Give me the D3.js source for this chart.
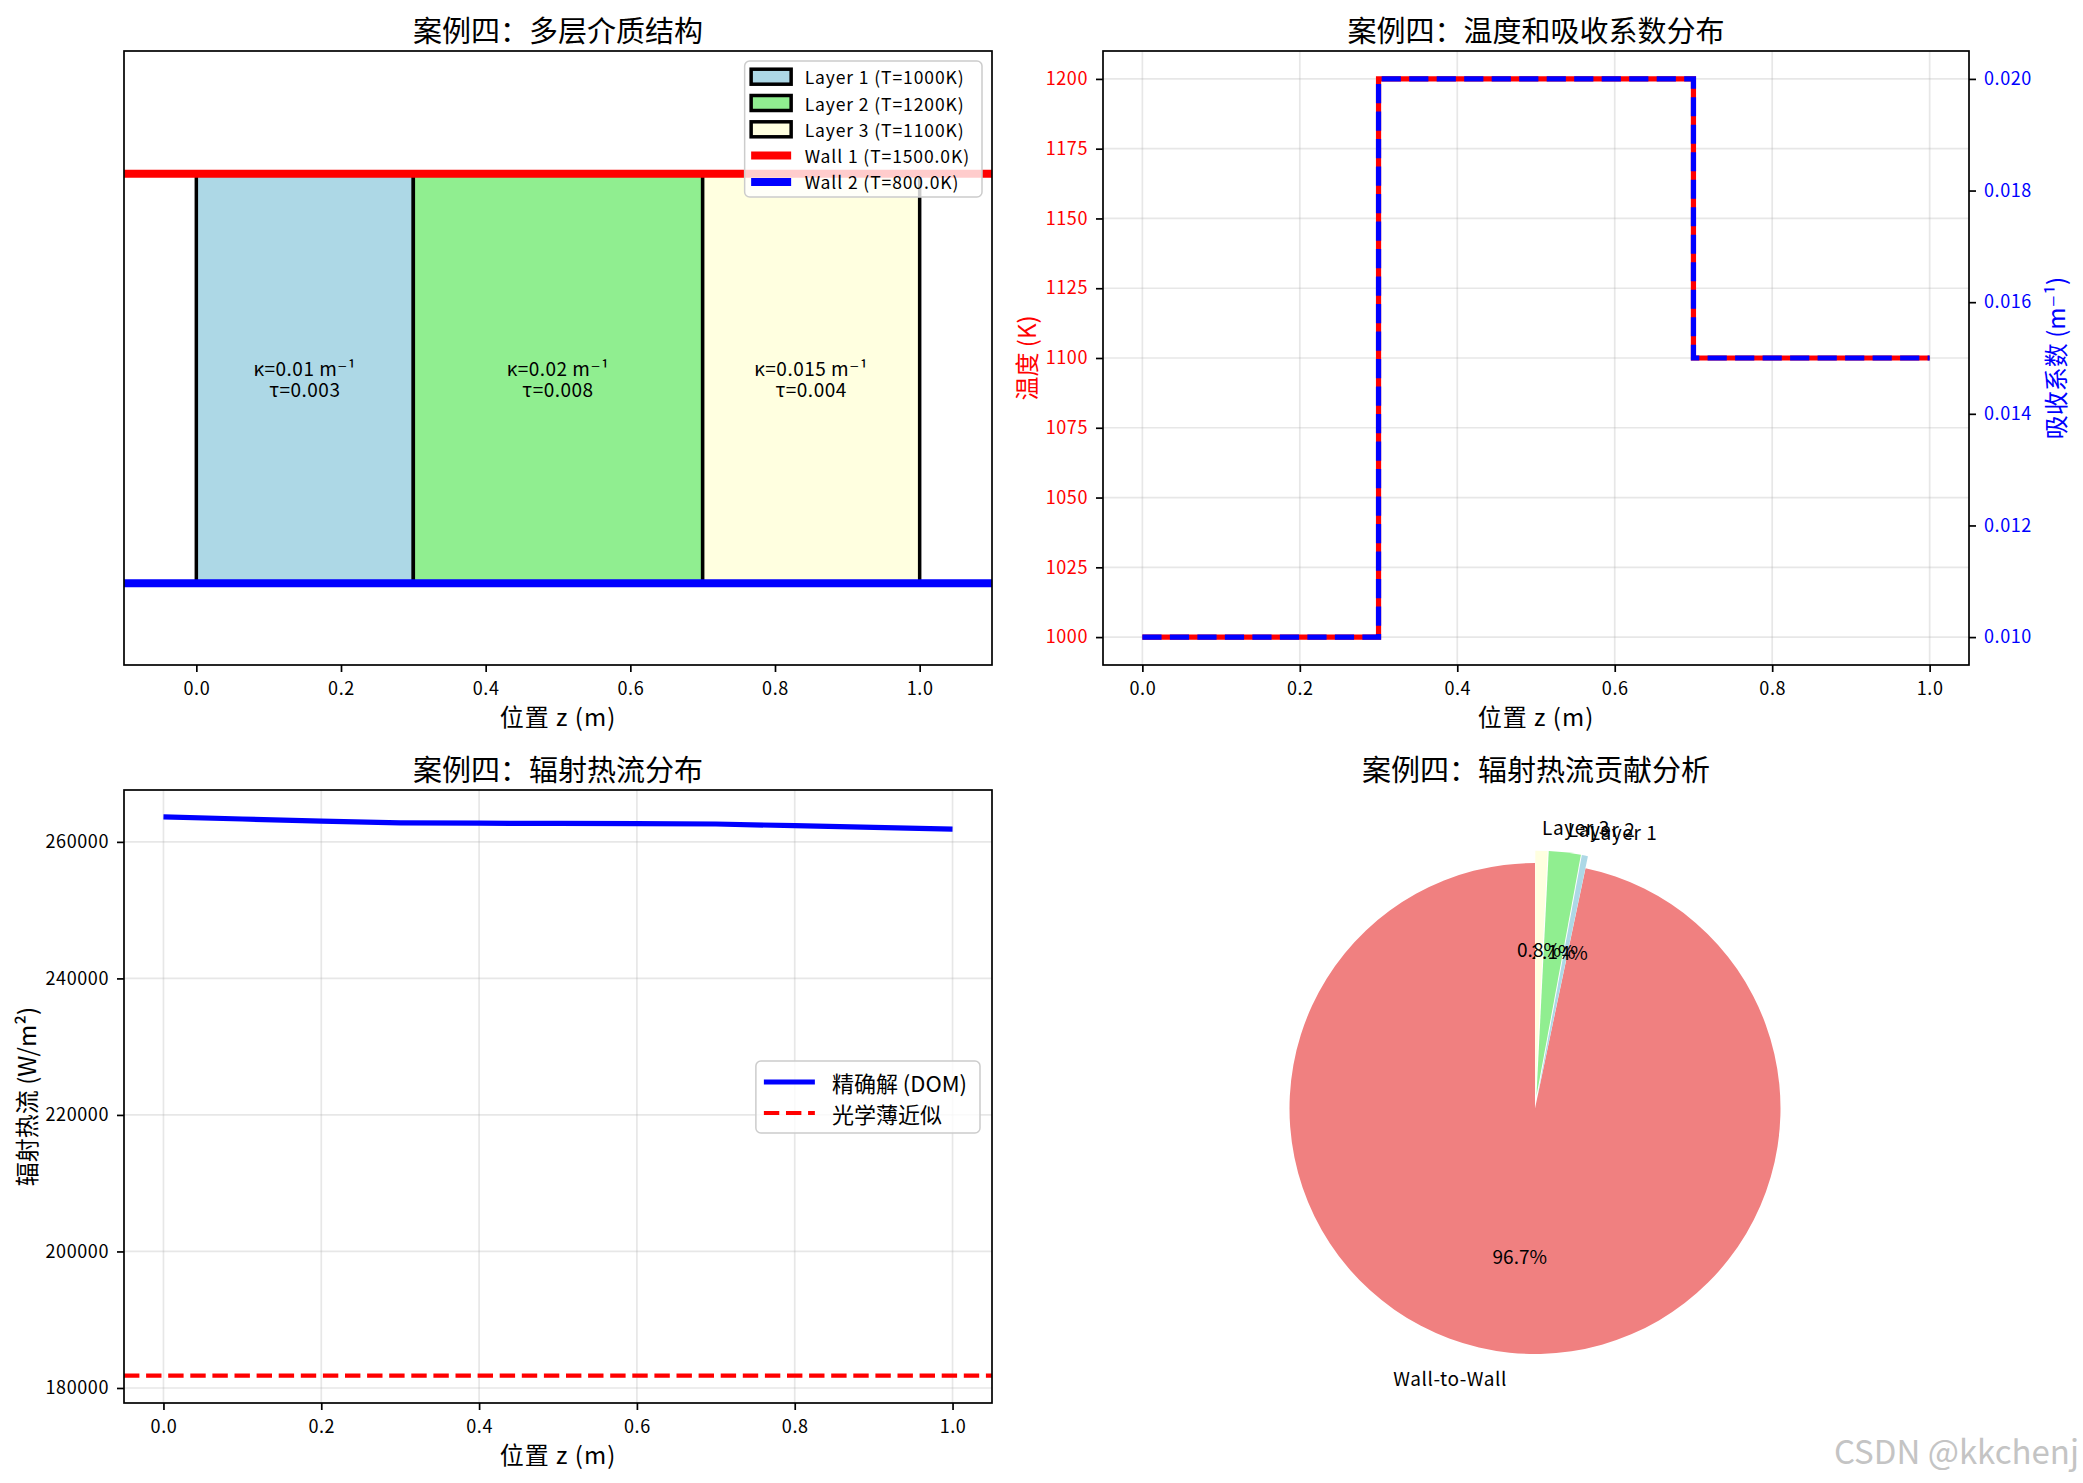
<!DOCTYPE html>
<html lang="zh">
<head>
<meta charset="UTF-8">
<title>案例四</title>
<style>
  body { margin: 0; background: #fff; }
  svg { display: block; font-family: "Noto Sans CJK SC", "DejaVu Sans", sans-serif; }
</style>
</head>
<body>
<div id="chart"></div>
<script src="https://cdnjs.cloudflare.com/ajax/libs/d3/7.8.5/d3.min.js"></script>
<script>
// --- data ---
const layerNames = ['Layer 1', 'Layer 2', 'Layer 3'];
const layerBounds = [0, 0.3, 0.7, 1.0];
const layerTemps = [1000, 1200, 1100];
const layerKappa = ['0.01', '0.02', '0.015'];
const layerTau = ['0.003', '0.008', '0.004'];
const layerColors = ['lightblue', 'lightgreen', 'lightyellow'];
const wallNames = ['Wall 1', 'Wall 2'];
const wallTemps = ['1500.0', '800.0'];
const wallColors = ['#ff0000', '#0000ff'];

const profileZ = [0, 0.3, 0.7, 1.0];
const profileT = [1000, 1200, 1100, 1100];
const profileK = [0.010, 0.020, 0.015, 0.015];

const fluxZ = [0, 0.1, 0.2, 0.3, 0.4, 0.5, 0.6, 0.7, 0.8, 0.9, 1.0];
const fluxDOM = [263650, 263350, 263050, 262780, 262740, 262700, 262660, 262620, 262370, 262120, 261870];
const fluxThin = 181800;

const pieLabels = ['Wall-to-Wall', 'Layer 1', 'Layer 2', 'Layer 3'];
const pieValues = [96.7, 0.4, 2.1, 0.8];
const pieColors = ['lightcoral', 'lightblue', 'lightgreen', 'lightyellow'];
const pieExplode = [0, 0.05, 0.05, 0.05];

const zTicks = [0, 0.2, 0.4, 0.6, 0.8, 1.0];
const tempTicks = [1000, 1025, 1050, 1075, 1100, 1125, 1150, 1175, 1200];
const kappaTicks = [0.010, 0.012, 0.014, 0.016, 0.018, 0.020];
const fluxTicks = [180000, 200000, 220000, 240000, 260000];

// --- layout ---
const W = 2083, H = 1483;
const svg = d3.select('#chart').append('svg').attr('width', W).attr('height', H);

const panels = {
  tl: {x: 124, y: 51, w: 868, h: 614},
  tr: {x: 1103, y: 51, w: 866, h: 614},
  bl: {x: 124, y: 790, w: 868, h: 613}
};

function title(cx, cy, txt) {
  svg.append('text').attr('x', cx).attr('y', cy)
    .attr('text-anchor', 'middle').attr('dominant-baseline', 'central')
    .style('font-size', '29px').text(txt);
}

function styleAxis(g, color) {
  g.attr('font-family', null).attr('font-size', null);
  g.select('.domain').remove();
  g.selectAll('.tick line').attr('stroke', '#000').attr('stroke-width', 1.7);
  g.selectAll('.tick text').attr('fill', color || '#000')
    .style('font-size', '18px').style('letter-spacing', '0.6px');
}

function xAxis(g, x, p) {
  const ax = g.append('g').attr('transform', `translate(0,${p.h})`)
    .call(d3.axisBottom(x).tickValues(zTicks).tickFormat(d3.format('.1f')).tickSize(7).tickPadding(10));
  styleAxis(ax);
  g.append('text').attr('x', p.w / 2).attr('y', p.h + 50)
    .attr('text-anchor', 'middle').attr('dominant-baseline', 'central')
    .style('font-size', '24px').style('letter-spacing', '1px').text('位置 z (m)');
}

function yLabel(g, dx, p, txt, color) {
  g.append('text').attr('transform', `translate(${dx},${p.h / 2}) rotate(-90)`)
    .attr('text-anchor', 'middle').attr('dominant-baseline', 'central')
    .attr('fill', color || '#000').style('font-size', '24px').text(txt);
}

function grid(g, x, y, xt, yt, p) {
  const gg = g.append('g').attr('stroke', '#b0b0b0').attr('stroke-opacity', 0.3).attr('stroke-width', 1.7);
  gg.selectAll('.gx').data(xt).join('line')
    .attr('x1', d => x(d)).attr('x2', d => x(d)).attr('y1', 0).attr('y2', p.h);
  gg.selectAll('.gy').data(yt).join('line')
    .attr('y1', d => y(d)).attr('y2', d => y(d)).attr('x1', 0).attr('x2', p.w);
}

function frame(g, p) {
  g.append('rect').attr('width', p.w).attr('height', p.h)
    .attr('fill', 'none').attr('stroke', '#000').attr('stroke-width', 1.7);
}

function legend(g, items, o) {
  const lg = g.append('g');
  const box = lg.append('rect').attr('y', o.top).attr('height', o.height)
    .attr('rx', 5).attr('fill', '#fff').attr('fill-opacity', 0.8)
    .attr('stroke', '#cccccc').attr('stroke-width', 1.5);
  const rows = lg.selectAll('.row').data(items).join('g');
  const texts = rows.append('text')
    .attr('y', (d, i) => o.top + o.first + i * o.rowH)
    .attr('dominant-baseline', 'central').style('font-size', o.fs + 'px')
    .style('letter-spacing', (o.ls || 0) + 'px')
    .text(d => d.label);
  let maxW = 0;
  texts.each(function () { maxW = Math.max(maxW, this.getComputedTextLength()); });
  const left = o.right - (o.textX + maxW + o.padR);
  box.attr('x', left).attr('width', o.right - left);
  texts.attr('x', left + o.textX);
  rows.each(function (d, i) {
    const cy = o.top + o.first + i * o.rowH;
    const r = d3.select(this);
    if (d.type === 'patch') {
      r.append('rect').attr('x', left + o.hx).attr('y', cy - 7.5).attr('width', o.hw).attr('height', 15)
        .attr('fill', d.color).attr('stroke', '#000').attr('stroke-width', 3.5);
    } else {
      r.append('line').attr('x1', left + o.hx).attr('x2', left + o.hx + o.hw).attr('y1', cy).attr('y2', cy)
        .attr('stroke', d.color).attr('stroke-width', d.width).attr('stroke-dasharray', d.dash || null);
    }
  });
}

// --- panel 1: layer structure ---
{
  const p = panels.tl;
  const g = svg.append('g').attr('transform', `translate(${p.x},${p.y})`);
  const x = d3.scaleLinear().domain([-0.1, 1.1]).range([0, p.w]);
  const y = d3.scaleLinear().domain([-0.2, 1.3]).range([p.h, 0]);

  const layers = layerNames.map((n, i) => ({
    name: n, z0: layerBounds[i], z1: layerBounds[i + 1], T: layerTemps[i],
    k: layerKappa[i], tau: layerTau[i], color: layerColors[i]
  }));

  g.selectAll('.layer').data(layers).join('rect')
    .attr('x', d => x(d.z0)).attr('width', d => x(d.z1) - x(d.z0))
    .attr('y', y(1)).attr('height', y(0) - y(1))
    .attr('fill', d => d.color).attr('stroke', '#000').attr('stroke-width', 3.5);

  const lab = g.selectAll('.lab').data(layers).join('text')
    .attr('text-anchor', 'middle').style('font-size', '19px').style('letter-spacing', '0.5px');
  lab.append('tspan').attr('x', d => x((d.z0 + d.z1) / 2)).attr('y', y(0.5) - 10.5)
    .attr('dominant-baseline', 'central').text(d => `κ=${d.k} m⁻¹`);
  lab.append('tspan').attr('x', d => x((d.z0 + d.z1) / 2)).attr('y', y(0.5) + 10.5)
    .attr('dominant-baseline', 'central').text(d => `τ=${d.tau}`);

  g.selectAll('.wall').data([1, 0]).join('line')
    .attr('x1', 0).attr('x2', p.w).attr('y1', d => y(d)).attr('y2', d => y(d))
    .attr('stroke', (d, i) => wallColors[i]).attr('stroke-width', 8);

  const items = layers.map(d => ({label: `${d.name} (T=${d.T}K)`, type: 'patch', color: d.color}))
    .concat(wallNames.map((n, i) => ({label: `${n} (T=${wallTemps[i]}K)`, type: 'line', color: wallColors[i], width: 8})));
  legend(g, items, {right: 858, top: 10, height: 136, first: 15.7, rowH: 26.3, hx: 6.5, hw: 40, textX: 60, padR: 12, fs: 17.5, ls: 0.9});

  xAxis(g, x, p);
  frame(g, p);
  title(p.x + p.w / 2, 29, '案例四：多层介质结构');
}

// --- panel 2: temperature & absorption ---
{
  const p = panels.tr;
  const g = svg.append('g').attr('transform', `translate(${p.x},${p.y})`);
  const x = d3.scaleLinear().domain([-0.05, 1.05]).range([0, p.w]);
  const yT = d3.scaleLinear().domain([990, 1210]).range([p.h, 0]);
  const yK = d3.scaleLinear().domain([0.0095, 0.0205]).range([p.h, 0]);
  grid(g, x, yT, zTicks, tempTicks, p);

  const pts = profileZ.map((z, i) => ({z, T: profileT[i], k: profileK[i]}));
  g.append('path').datum(pts)
    .attr('d', d3.line().x(d => x(d.z)).y(d => yT(d.T)).curve(d3.curveStepAfter))
    .attr('fill', 'none').attr('stroke', '#ff0000').attr('stroke-width', 5.2);
  g.append('path').datum(pts)
    .attr('d', d3.line().x(d => x(d.z)).y(d => yK(d.k)).curve(d3.curveStepAfter))
    .attr('fill', 'none').attr('stroke', '#0000ff').attr('stroke-width', 5.2)
    .attr('stroke-dasharray', '19.2,8.3');

  xAxis(g, x, p);
  const al = g.append('g').call(d3.axisLeft(yT).tickValues(tempTicks).tickFormat(d3.format('d')).tickSize(7).tickPadding(8));
  styleAxis(al, '#ff0000');
  const ar = g.append('g').attr('transform', `translate(${p.w},0)`)
    .call(d3.axisRight(yK).tickValues(kappaTicks).tickFormat(d3.format('.3f')).tickSize(7).tickPadding(8));
  styleAxis(ar, '#0000ff');
  yLabel(g, -77.5, p, '温度 (K)', '#ff0000');
  yLabel(g, p.w + 85, p, '吸收系数 (m⁻¹)', '#0000ff');
  frame(g, p);
  title(p.x + p.w / 2, 29, '案例四：温度和吸收系数分布');
}

// --- panel 3: radiative heat flux ---
{
  const p = panels.bl;
  const g = svg.append('g').attr('transform', `translate(${p.x},${p.y})`);
  const x = d3.scaleLinear().domain([-0.05, 1.05]).range([0, p.w]);
  const y = d3.scaleLinear().domain([177800, 267600]).range([p.h, 0]);
  grid(g, x, y, zTicks, fluxTicks, p);

  g.append('path').datum(fluxZ.map((z, i) => [z, fluxDOM[i]]))
    .attr('d', d3.line().x(d => x(d[0])).y(d => y(d[1])))
    .attr('fill', 'none').attr('stroke', '#0000ff').attr('stroke-width', 5.2);
  g.append('line').attr('x1', 0).attr('x2', p.w).attr('y1', y(fluxThin)).attr('y2', y(fluxThin))
    .attr('stroke', '#ff0000').attr('stroke-width', 4.2).attr('stroke-dasharray', '15.4,6.7');

  legend(g, [
    {label: '精确解 (DOM)', type: 'line', color: '#0000ff', width: 5.2},
    {label: '光学薄近似', type: 'line', color: '#ff0000', width: 4.2, dash: '15.4,6.7'}
  ], {right: 856, top: 271, height: 72, first: 21, rowH: 31, hx: 8, hw: 51, textX: 76, padR: 13, fs: 22});

  xAxis(g, x, p);
  const al = g.append('g').call(d3.axisLeft(y).tickValues(fluxTicks).tickFormat(d3.format('d')).tickSize(7).tickPadding(8));
  styleAxis(al);
  yLabel(g, -99, p, '辐射热流 (W/m²)');
  frame(g, p);
  title(p.x + p.w / 2, 768, '案例四：辐射热流分布');
}

// --- panel 4: contribution pie ---
{
  const cx = 1535, cy = 1108.5, r = 245.5;
  const g = svg.append('g').attr('transform', `translate(${cx},${cy})`);
  const arcs = d3.pie().sort(null).startAngle(0).endAngle(-2 * Math.PI).value(d => d)(pieValues);
  const arc = d3.arc().innerRadius(0).outerRadius(r);
  const total = d3.sum(pieValues);

  arcs.forEach((a, i) => {
    const mid = (a.startAngle + a.endAngle) / 2;
    const sx = Math.sin(mid), sy = -Math.cos(mid);
    const off = pieExplode[i] * r;
    const ox = sx * off, oy = sy * off;
    g.append('path').attr('d', arc(a)).attr('transform', `translate(${ox},${oy})`)
      .attr('fill', pieColors[i]);
    g.append('text').attr('x', ox + sx * r * 1.1).attr('y', oy + sy * r * 1.1)
      .attr('text-anchor', sx > 0 ? 'start' : 'end').attr('dominant-baseline', 'central')
      .style('font-size', '19px').style('letter-spacing', '0.6px').text(pieLabels[i]);
    g.append('text').attr('x', ox + sx * r * 0.6).attr('y', oy + sy * r * 0.6)
      .attr('text-anchor', 'middle').attr('dominant-baseline', 'central')
      .style('font-size', '19px').text(d3.format('.1f')(pieValues[i] / total * 100) + '%');
  });
  title(1536, 768, '案例四：辐射热流贡献分析');
}

svg.append('text').attr('x', 2079).attr('y', 1450)
  .attr('text-anchor', 'end').attr('dominant-baseline', 'central')
  .attr('fill', '#c4c4c4').style('font-size', '33px').text('CSDN @kkchenj');
</script>
</body>
</html>
